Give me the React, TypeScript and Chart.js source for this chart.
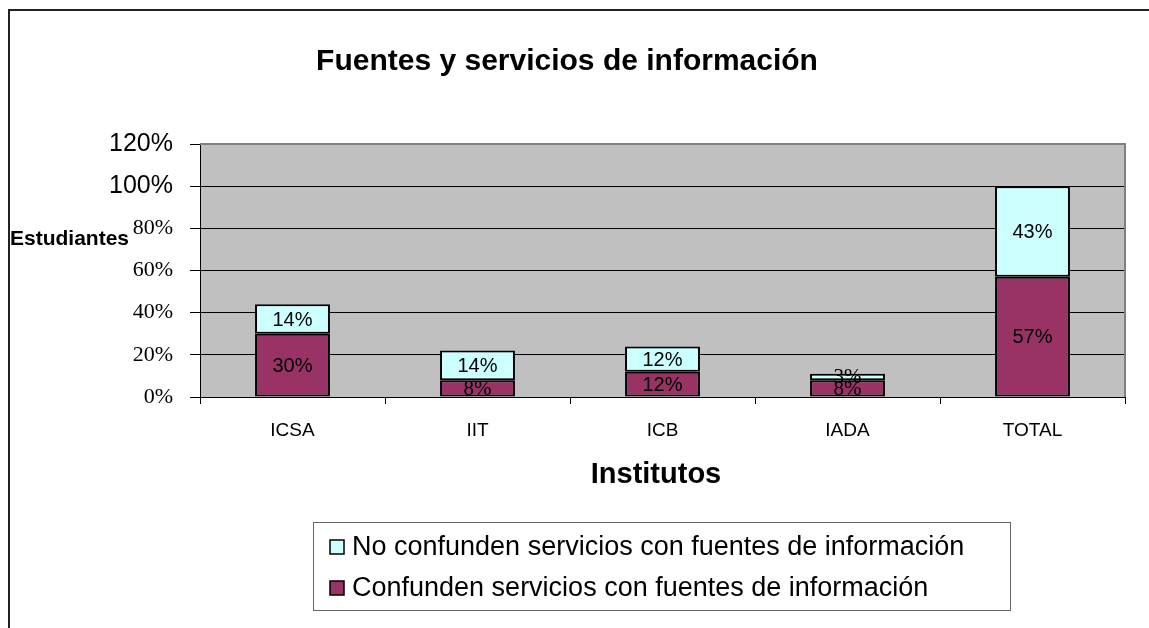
import React, { useEffect, useRef } from "react";
import { Chart, registerables } from "chart.js";

Chart.register(...registerables);

// ---- data ----
const categories = ["ICSA", "IIT", "ICB", "IADA", "TOTAL"];
const confunden = [0.3, 0.08, 0.12, 0.08, 0.57];
const noConfunden = [0.14, 0.14, 0.12, 0.03, 0.43];
const yTickValues = [0, 0.2, 0.4, 0.6, 0.8, 1.0, 1.2];
const seriesNames = [
  "Confunden servicios con fuentes de información",
  "No confunden servicios con fuentes de información",
];
const titleText = "Fuentes y servicios de información";
const xTitleText = "Institutos";
const yTitleText = "Estudiantes";

const SANS = "'Liberation Sans', Arial, sans-serif";
const SERIF = "'Liberation Serif', 'Times New Roman', serif";
const pct = (v: number) => Math.round(v * 100) + "%";

const decor = {
  id: "decor",
  beforeDraw(chart: any) {
    const { ctx, chartArea: a } = chart;
    ctx.save();
    ctx.fillStyle = "#ffffff";
    ctx.fillRect(0, 0, chart.width, chart.height);
    ctx.strokeStyle = "#222222";
    ctx.lineWidth = 2;
    ctx.beginPath();
    ctx.moveTo(9, chart.height);
    ctx.lineTo(9, 10);
    ctx.lineTo(chart.width, 10);
    ctx.stroke();
    ctx.fillStyle = "#c0c0c0";
    ctx.fillRect(a.left, a.top, a.right - a.left, a.bottom - a.top);
    ctx.restore();
  },
  beforeDatasetsDraw(chart: any) {
    const { ctx, chartArea: a } = chart;
    ctx.save();
    ctx.strokeStyle = "#808080";
    ctx.lineWidth = 2;
    ctx.beginPath();
    ctx.moveTo(a.left, a.top);
    ctx.lineTo(a.right, a.top);
    ctx.lineTo(a.right, a.bottom);
    ctx.stroke();
    ctx.restore();
  },
  afterDatasetsDraw(chart: any) {
    const { ctx } = chart;
    ctx.save();
    ctx.fillStyle = "#000";
    ctx.textAlign = "center";
    ctx.textBaseline = "middle";
    chart.data.datasets.forEach((ds: any, di: number) => {
      const meta = chart.getDatasetMeta(di);
      meta.data.forEach((el: any, i: number) => {
        const { x, y, base } = el.getProps(["x", "y", "base"], true);
        const h = Math.abs(base - y);
        ctx.font = h < 20 ? "21px " + SERIF : "20px " + SANS;
        ctx.fillText(pct(ds.data[i]), x, (y + base) / 2 + 1);
      });
    });
    ctx.restore();
  },
  afterDraw(chart: any) {
    const { ctx } = chart;
    ctx.save();
    ctx.fillStyle = "#000";
    ctx.textBaseline = "middle";
    // title
    ctx.textAlign = "center";
    ctx.font = "bold 30px " + SANS;
    ctx.fillText(titleText, 567, 62);
    // x title
    ctx.font = "bold 29px " + SANS;
    ctx.fillText(xTitleText, 656, 475);
    // y title
    ctx.textAlign = "left";
    ctx.font = "bold 21px " + SANS;
    ctx.fillText(yTitleText, 10, 239);
    // legend
    const lx = 313, ly = 522, lw = 697, lh = 88;
    ctx.strokeStyle = "#666666";
    ctx.lineWidth = 1;
    ctx.strokeRect(lx + 0.5, ly + 0.5, lw, lh);
    const items = chart.data.datasets.slice().reverse();
    items.forEach((ds: any, k: number) => {
      const cy = 547 + k * 41;
      ctx.fillStyle = ds.backgroundColor;
      ctx.fillRect(330, cy - 7, 14, 14);
      ctx.strokeStyle = "#000";
      ctx.lineWidth = 1.5;
      ctx.strokeRect(330, cy - 7, 14, 14);
      ctx.fillStyle = "#000";
      ctx.font = "27px " + SANS;
      ctx.fillText(ds.label, 352, cy + 1);
    });
    ctx.restore();
  },
};

export default function App() {
  const ref = useRef<HTMLCanvasElement | null>(null);
  useEffect(() => {
    if (!ref.current) return;
    const chart = new Chart(ref.current, {
      type: "bar",
      data: {
        labels: categories,
        datasets: [
          {
            label: seriesNames[0],
            data: confunden,
            backgroundColor: "#993366",
            borderColor: "#000000",
            borderWidth: 2,
            borderSkipped: false,
          },
          {
            label: seriesNames[1],
            data: noConfunden,
            backgroundColor: "#CCFFFF",
            borderColor: "#000000",
            borderWidth: 2,
            borderSkipped: false,
          },
        ],
      },
      options: {
        responsive: false,
        animation: false,
        devicePixelRatio: 1,
        layout: { padding: { left: 0, right: 24, top: 144, bottom: 171 } },
        plugins: {
          legend: { display: false },
          title: { display: false },
          tooltip: { enabled: false },
        },
        datasets: { bar: { categoryPercentage: 1, barPercentage: 0.405 } },
        scales: {
          x: {
            stacked: true,
            afterFit: (s: any) => { s.height = 60; },
            grid: {
              drawOnChartArea: false,
              drawTicks: true,
              tickLength: 7,
              color: "#000",
              offset: true,
            },
            border: { color: "#000", width: 1 },
            ticks: {
              color: "#000",
              font: { family: SANS, size: 19 },
              padding: 15,
              maxRotation: 0,
            },
          },
          y: {
            stacked: true,
            min: 0,
            max: 1.2,
            afterFit: (s: any) => { s.width = 200; },
            afterBuildTicks: (s: any) => {
              s.ticks = yTickValues.map((v) => ({ value: v }));
            },
            grid: { color: "#000", lineWidth: 1, tickLength: 10, drawTicks: true },
            border: { color: "#000", width: 1 },
            ticks: {
              color: "#000",
              padding: 17,
              callback: (v: any) => pct(Number(v)),
              font: (c: any) =>
                c.index >= 5
                  ? { family: SANS, size: 25 }
                  : { family: SERIF, size: 22 },
            },
          },
        },
      },
      plugins: [decor],
    });
    return () => chart.destroy();
  }, []);
  return (
    <div style={{ position: "absolute", left: 0, top: 0, width: 1149, height: 628 }}>
      <canvas ref={ref} width={1149} height={628} style={{ display: "block" }} />
    </div>
  );
}
